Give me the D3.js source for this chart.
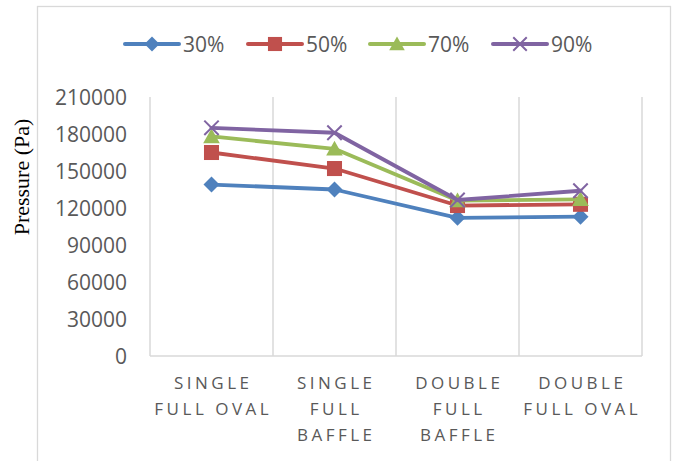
<!DOCTYPE html>
<html>
<head>
<meta charset="utf-8">
<script src="https://cdn.jsdelivr.net/npm/d3@7/dist/d3.min.js"></script>
<style>
  body { margin: 0; background: #fff; }
  svg { display: block; }
</style>
</head>
<body>
<svg id="chart" width="675" height="461"></svg>
<script>
// Tank configurations on the x axis (label lines as wrapped in the chart)
const categories = ["Single full oval", "Single full baffle", "Double full baffle", "Double full oval"];
const categoryLines = [
  ["SINGLE", "FULL OVAL"],
  ["SINGLE", "FULL", "BAFFLE"],
  ["DOUBLE", "FULL", "BAFFLE"],
  ["DOUBLE", "FULL OVAL"]
];

// Fill levels and their pressure values (Pa)
const seriesNames = ["30%", "50%", "70%", "90%"];
const pressure30 = [139000, 135000, 112000, 113000];
const pressure50 = [165000, 152000, 122000, 123000];
const pressure70 = [178000, 168000, 126000, 127000];
const pressure90 = [185000, 181000, 126500, 134000];
const seriesColors = ["#4f81bd", "#c0504d", "#9bbb59", "#8064a2"];
const seriesMarkers = ["diamond", "square", "triangle", "cross"];

const yTicks = [0, 30000, 60000, 90000, 120000, 150000, 180000, 210000];
const yTitle = "Pressure (Pa)";

const series = seriesNames.map((name, i) => ({
  name,
  values: [pressure30, pressure50, pressure70, pressure90][i],
  color: seriesColors[i],
  marker: seriesMarkers[i]
}));

const svg = d3.select("#chart");
const plot = { left: 150, right: 642, top: 97, bottom: 356 };

const x = d3.scaleBand().domain(categories).range([plot.left, plot.right]).padding(0);
const y = d3.scaleLinear().domain([0, 210000]).range([plot.bottom, plot.top]);

const gridColor = "#d9d9d9";
const textColor = "#595959";
const sans = "'Open Sans', 'Noto Sans', sans-serif";

// Outer chart frame (continues below the visible area)
svg.append("rect")
  .attr("x", 37.5).attr("y", 6.5)
  .attr("width", 633).attr("height", 480)
  .attr("fill", "none").attr("stroke", gridColor).attr("stroke-width", 1.3);

// Vertical gridlines at category boundaries
const boundaries = categories.map(c => x(c)).concat([x.range()[1]]);
svg.append("g").selectAll("line")
  .data(boundaries)
  .join("line")
  .attr("x1", d => d).attr("x2", d => d)
  .attr("y1", plot.top).attr("y2", plot.bottom)
  .attr("stroke", gridColor).attr("stroke-width", 1.5);

// Horizontal base line
svg.append("line")
  .attr("x1", plot.left).attr("x2", plot.right)
  .attr("y1", plot.bottom).attr("y2", plot.bottom)
  .attr("stroke", gridColor).attr("stroke-width", 1.5);

// Y axis
const yAxis = svg.append("g")
  .attr("transform", `translate(${plot.left},0)`)
  .call(d3.axisLeft(y).tickValues(yTicks).tickSize(0).tickPadding(23).tickFormat(d3.format("d")));
yAxis.select(".domain").remove();
yAxis.selectAll("text")
  .attr("fill", textColor)
  .style("font-family", sans)
  .style("font-size", "21px")
  .attr("dy", "0.35em");

// Y axis title
svg.append("text")
  .attr("transform", "translate(29,177) rotate(-90)")
  .attr("text-anchor", "middle")
  .style("font-family", "'Liberation Serif', 'Times New Roman', serif")
  .style("font-size", "22px")
  .attr("fill", "#000")
  .text(yTitle);

// X axis with wrapped, letter-spaced category labels
const xAxis = svg.append("g")
  .attr("transform", `translate(0,${plot.bottom})`)
  .call(d3.axisBottom(x).tickSize(0).tickFormat(""));
xAxis.select(".domain").remove();
xAxis.selectAll(".tick").each(function (d, i) {
  const t = d3.select(this).append("text")
    .attr("text-anchor", "middle")
    .attr("fill", textColor)
    .style("font-family", sans)
    .style("font-size", "17px")
    .style("letter-spacing", "3.5px");
  categoryLines[i].forEach((line, j) => {
    t.append("tspan")
      .attr("x", 1.75)
      .attr("y", 33 + j * 26)
      .text(line);
  });
});

// Marker drawing
function drawMarker(sel, type, color, size) {
  const s = size;
  if (type === "diamond") {
    sel.append("path").attr("d", `M0,${-s/2}L${s/2},0L0,${s/2}L${-s/2},0Z`).attr("fill", color);
  } else if (type === "square") {
    sel.append("rect").attr("x", -s*0.47).attr("y", -s*0.47).attr("width", s*0.94).attr("height", s*0.94).attr("fill", color);
  } else if (type === "triangle") {
    sel.append("path").attr("d", `M0,${-s*0.5}L${s*0.52},${s*0.42}L${-s*0.52},${s*0.42}Z`).attr("fill", color);
  } else if (type === "cross") {
    const h = s * 0.45;
    sel.append("path").attr("d", `M${-h},${-h}L${h},${h}M${-h},${h}L${h},${-h}`)
      .attr("stroke", color).attr("stroke-width", 2).attr("fill", "none");
  }
}

const cx = c => x(c) + x.bandwidth() / 2;
const line = d3.line().x((d, i) => cx(categories[i])).y(d => y(d));

// Series lines and markers
series.forEach(s => {
  const g = svg.append("g");
  g.append("path")
    .datum(s.values)
    .attr("d", line)
    .attr("fill", "none")
    .attr("stroke", s.color)
    .attr("stroke-width", 3.8)
    .attr("stroke-linejoin", "round")
    .attr("stroke-linecap", "round");
  g.selectAll("g.pt")
    .data(s.values)
    .join("g")
    .attr("class", "pt")
    .attr("transform", (d, i) => `translate(${cx(categories[i])},${y(d)})`)
    .each(function () { drawMarker(d3.select(this), s.marker, s.color, 16); });
});

// Legend
const legendX = [125, 248, 370, 493];
const legend = svg.append("g");
series.forEach((s, i) => {
  const g = legend.append("g").attr("transform", `translate(${legendX[i]},44)`);
  g.append("line")
    .attr("x1", 0).attr("x2", 54).attr("y1", 0).attr("y2", 0)
    .attr("stroke", s.color).attr("stroke-width", 4).attr("stroke-linecap", "round");
  drawMarker(g.append("g").attr("transform", "translate(27,0)"), s.marker, s.color, 15);
  g.append("text")
    .attr("x", 58).attr("y", 0).attr("dy", "0.36em")
    .attr("fill", textColor)
    .style("font-family", sans)
    .style("font-size", "21px")
    .text(s.name);
});
</script>
</body>
</html>
